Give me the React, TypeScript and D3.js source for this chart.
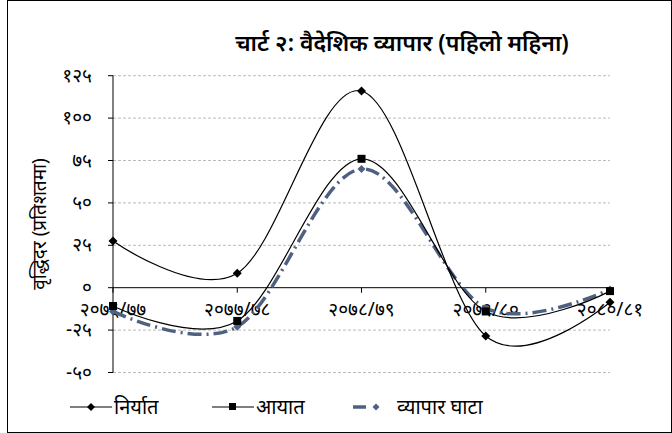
import * as d3 from "d3";

const categories = ["२०७६/७७", "२०७७/७८", "२०७८/७९", "२०७९/८०", "२०८०/८१"];
const exportsGrowth = [27.5, 8.5, 116, -28.5, -8.6];
const importsGrowth = [-10.8, -19.6, 76, -14, -2];
const deficitGrowth = [-14, -23, 70, -12, -1];
const yTicks = [-50, -25, 0, 25, 50, 75, 100, 125];

const toNep = (n: number) =>
  String(n).replace(/[0-9]/g, (d) => "०१२३४५६७८९"[+d]);

const W = 672;
const H = 433;
const FONT = "'Noto Sans', 'DejaVu Sans', sans-serif";

export default function App() {
  const x = d3.scalePoint().domain(categories).range([113, 610]);
  const y = d3.scaleLinear().domain([-50, 125]).range([372.5, 75.7]);
  const line = d3
    .line<number>()
    .x((_, i) => x(categories[i])!)
    .y((d) => y(d))
    .curve(d3.curveCatmullRom.alpha(0));

  const diamond = (cx: number, cy: number, r: number) =>
    `M${cx},${cy - r}L${cx + r},${cy}L${cx},${cy + r}L${cx - r},${cy}Z`;

  return (
    <svg width={W} height={H} style={{ position: "absolute", left: 0, top: 0, background: "#fff" }}>
      <rect x={7.5} y={0.5} width={W - 8} height={H - 1} fill="none" stroke="#000" strokeWidth={1} />
      <text x={402} y={51} textAnchor="middle" fontFamily={FONT} fontSize={23} fontWeight="600">
        चार्ट २: वैदेशिक व्यापार (पहिलो महिना)
      </text>

      {yTicks.map((t) => (
        <g key={t}>
          {t !== 0 && (
            <line x1={113} x2={610} y1={y(t)} y2={y(t)} stroke="#bbb" strokeDasharray="3,2" />
          )}
          <line x1={108} x2={113} y1={y(t)} y2={y(t)} stroke="#000" />
          <text x={92} y={y(t) + 6} textAnchor="end" fontFamily={FONT} fontSize={19}>
            {t < 0 ? "-" + toNep(-t) : toNep(t)}
          </text>
        </g>
      ))}
      <line x1={113} x2={113} y1={y(125)} y2={y(-50)} stroke="#000" />
      <line x1={113} x2={610} y1={y(0)} y2={y(0)} stroke="#000" />
      {categories.map((c) => (
        <g key={c}>
          <line x1={x(c)} x2={x(c)} y1={y(0)} y2={y(0) + 5} stroke="#000" />
          <text x={x(c)} y={y(0) + 28} textAnchor="middle" fontFamily={FONT} fontSize={19}>
            {c}
          </text>
        </g>
      ))}
      <text
        transform={`translate(46,${y(37.5)}) rotate(-90)`}
        textAnchor="middle"
        fontFamily={FONT}
        fontSize={19}
      >
        वृद्धिदर  (प्रतिशतमा)
      </text>

      <path d={line(deficitGrowth)!} fill="none" stroke="#4f6180" strokeWidth={3.5} strokeDasharray="14,5,2,5" />
      {deficitGrowth.map((v, i) => (
        <path key={i} d={diamond(x(categories[i])!, y(v), 4)} fill="#4f6180" />
      ))}
      <path d={line(importsGrowth)!} fill="none" stroke="#000" strokeWidth={1.2} />
      {importsGrowth.map((v, i) => (
        <rect key={i} x={x(categories[i])! - 4} y={y(v) - 4} width={8} height={8} fill="#000" />
      ))}
      <path d={line(exportsGrowth)!} fill="none" stroke="#000" strokeWidth={1.2} />
      {exportsGrowth.map((v, i) => (
        <path key={i} d={diamond(x(categories[i])!, y(v), 4.5)} fill="#000" />
      ))}

      <g fontFamily={FONT} fontSize={20}>
        <line x1={70} x2={112} y1={407} y2={407} stroke="#000" strokeWidth={1.2} />
        <path d={diamond(91, 407, 4)} fill="#000" />
        <text x={114} y={414}>निर्यात</text>
        <line x1={212} x2={254} y1={407} y2={407} stroke="#000" strokeWidth={1.2} />
        <rect x={229} y={403} width={7} height={7} fill="#000" />
        <text x={256} y={414}>आयात</text>
        <line x1={353} x2={366} y1={407} y2={407} stroke="#4f6180" strokeWidth={3.5} />
        <path d={diamond(376, 407, 3.5)} fill="#4f6180" />
        <text x={397} y={414}>व्यापार घाटा</text>
      </g>
    </svg>
  );
}
